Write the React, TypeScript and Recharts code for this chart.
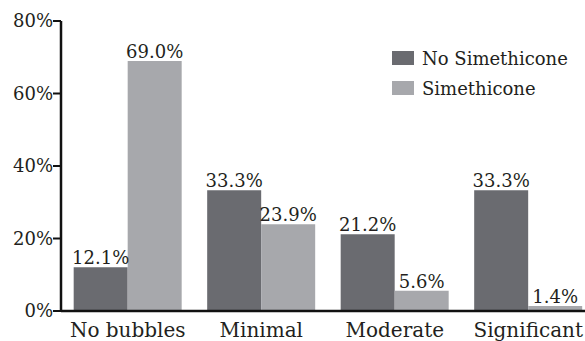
import { BarChart, Bar, XAxis, YAxis, Legend, LabelList } from "recharts";

const categories = ["No bubbles", "Minimal", "Moderate", "Significant"];
const noSimethicone = [12.1, 33.3, 21.2, 33.3];
const simethicone = [69.0, 23.9, 5.6, 1.4];
const yTicks = [0, 20, 40, 60, 80];

const DARK = "#6a6b70";
const LIGHT = "#a7a8ac";
const INK = "#231f20";
const FONT = "'DejaVu Serif', serif";

const data = categories.map((nome, i) => ({
  nome,
  no: noSimethicone[i],
  sim: simethicone[i],
}));

const itens = [
  { nome: "No Simethicone", cor: DARK },
  { nome: "Simethicone", cor: LIGHT },
];

function Legenda() {
  return (
    <div style={{ fontFamily: FONT, fontSize: 18, color: INK }}>
      {itens.map((it) => (
        <div key={it.nome} style={{ display: "flex", alignItems: "center", height: 30 }}>
          <span style={{ width: 22, height: 14, background: it.cor, marginRight: 8, display: "inline-block" }} />
          <span>{it.nome}</span>
        </div>
      ))}
    </div>
  );
}

const pct = (v: any) => `${Number(v).toFixed(1)}%`;

export default function App() {
  return (
    <div style={{ position: "fixed", left: 0, top: 0, width: 585, height: 341, overflow: "hidden", background: "#fff" }}>
      <BarChart
        width={600}
        height={341}
        data={data}
        margin={{ top: 21, right: 5, bottom: 0, left: 0 }}
        barCategoryGap="9.5%"
        barGap={0}
      >
        <XAxis
          dataKey="nome"
          height={30}
          tickLine={false}
          tickSize={0}
          tickMargin={12}
          axisLine={{ stroke: "#111", strokeWidth: 2.5 }}
          tick={{ fontSize: 20, fontFamily: FONT, fill: INK }}
          interval={0}
        />
        <YAxis
          width={61}
          domain={[0, 80]}
          ticks={yTicks}
          tickFormatter={(v) => `${v}%`}
          tickSize={8}
          tickMargin={0}
          axisLine={{ stroke: "#111", strokeWidth: 2.5 }}
          tickLine={{ stroke: "#111", strokeWidth: 2 }}
          tick={{ fontSize: 18, fontFamily: FONT, fill: INK }}
        />
        <Legend
          layout="vertical"
          align="center"
          verticalAlign="middle"
          content={() => <Legenda />}
          wrapperStyle={{ top: 43, left: 392, width: "auto" }}
        />
        <Bar dataKey="no" fill={DARK} isAnimationActive={false}>
          <LabelList dataKey="no" position="top" offset={3} formatter={pct} style={{ fontSize: 18, fontFamily: FONT, fill: INK }} />
        </Bar>
        <Bar dataKey="sim" fill={LIGHT} isAnimationActive={false}>
          <LabelList dataKey="sim" position="top" offset={3} formatter={pct} style={{ fontSize: 18, fontFamily: FONT, fill: INK }} />
        </Bar>
      </BarChart>
    </div>
  );
}
